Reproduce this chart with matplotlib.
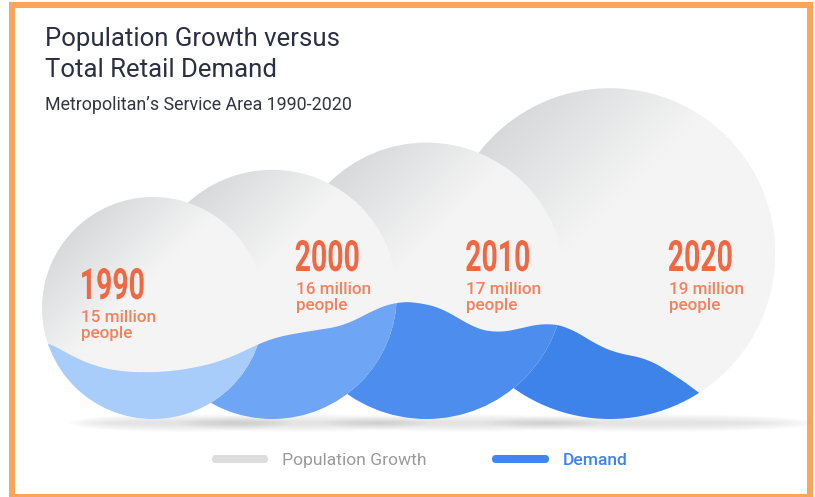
import numpy as np
import matplotlib
matplotlib.use("Agg")
import matplotlib.pyplot as plt
from matplotlib.patches import Circle, Rectangle, Ellipse, FancyBboxPatch
from matplotlib.patheffects import AbstractPathEffect
from matplotlib.transforms import Affine2D

# data
years = ["1990", "2000", "2010", "2020"]
population = [15, 16, 17, 19]  # million people
# demand wave height (index) along the timeline
demand = [77, 62, 51, 46, 45, 46, 50, 56, 67, 79, 84, 88, 92, 106,
          116, 115, 108, 91, 84, 89, 95, 90, 73, 63, 60, 45, 28, 7]

# layout (pixel units, y down)
W, H = 815, 497
base_y = 419          # circles sit on this line
first_cx = 153
overlap = [0.506, 0.587, 0.604]
label_dx = [-0.66, 0.18, 0.28, 0.35]
label_top = [268, 240, 240, 240]
wave_colors = ["#a8cdfb", "#6ea5f4", "#4c8ded", "#3d83ea"]
dark = np.array([0xd2, 0xd4, 0xd6]) / 255
light = np.array([0xf4, 0xf4, 0xf4]) / 255
orange = "#ef6843"
orange_l = "#f18260"


class Condense(AbstractPathEffect):
    """squeeze glyphs horizontally (no condensed font installed)"""
    def __init__(self, sx):
        super().__init__()
        self.sx = sx

    def draw_path(self, renderer, gc, tpath, affine, rgbFace=None):
        renderer.draw_path(gc, tpath, Affine2D().scale(self.sx, 1) + affine, rgbFace)


radii = [13.6 * p - 93 for p in population]
cxs = [first_cx]
for i in range(1, len(radii)):
    cxs.append(cxs[-1] + overlap[i - 1] * (radii[i - 1] + radii[i]))
cys = [base_y - r for r in radii]

fig = plt.figure(figsize=(W / 100, H / 100), dpi=100)
ax = fig.add_axes([0, 0, 1, 1])
ax.set_xlim(0, W)
ax.set_ylim(H, 0)
ax.axis("off")

# soft shadows under circles
for cx, r in zip(cxs, radii):
    for k in range(8):
        ax.add_patch(Ellipse((cx + 0.25 * r, base_y + 4), 2.0 * r * (1.0 - k * 0.05),
                             18 - k * 2, color="#a0a0a0", alpha=0.035, lw=0, zorder=1))

# demand wave x positions across the timeline
wave_x = np.linspace(cxs[0] - radii[0] + 3, 720, len(demand))
fine_x = np.linspace(wave_x[0] - 20, W, 600)
fine_y = base_y - 2 - np.interp(fine_x, wave_x, demand)
# smooth the curve a bit
kern = np.ones(25) / 25
fine_y = np.convolve(np.pad(fine_y, 12, mode="edge"), kern, mode="valid")

# draw back to front: 2020 first, 1990 last
n = len(years)
for i in reversed(range(n)):
    cx, cy, r = cxs[i], cys[i], radii[i]
    z = 2 + (n - i) * 3
    circ = Circle((cx, cy), r, transform=ax.transData, facecolor="none", lw=0)
    ax.add_patch(circ)
    u = np.linspace(-1, 1, 200)
    U, V = np.meshgrid(u, u)
    t = (U + V) / np.sqrt(2)
    f = np.clip((t + 1.15) / 0.95, 0, 1)[..., None]
    img = dark * (1 - f) + light * f
    im = ax.imshow(img, extent=(cx - r, cx + r, cy + r, cy - r), zorder=z,
                   interpolation="bilinear", aspect="auto")
    im.set_clip_path(circ)
    wave = ax.fill_between(fine_x, fine_y, H, color=wave_colors[i], lw=0, zorder=z + 1)
    wave.set_clip_path(circ)

    # labels
    lx = cx + label_dx[i] * r
    ly = label_top[i]
    ax.text(lx, ly - 1, years[i], color=orange, fontsize=31, fontweight="bold",
            family=["Roboto", "DejaVu Sans"], va="top", ha="left", zorder=40,
            path_effects=[Condense(0.66)])
    ax.text(lx + 1, ly + 42, f"{population[i]} million\npeople", color=orange_l, fontsize=12.3,
            family=["Roboto", "DejaVu Sans"], fontweight="medium", va="top", ha="left",
            linespacing=1.08, zorder=40)

# titles
ax.text(45, 46, "Population Growth versus", fontsize=18.5, color="#2b2f42",
        family=["Roboto", "DejaVu Sans"], va="baseline", zorder=50)
ax.text(45, 77, "Total Retail Demand", fontsize=18.5, color="#2b2f42",
        family=["Roboto", "DejaVu Sans"], va="baseline", zorder=50)
ax.text(45, 110, "Metropolitan\u2019s Service Area 1990-2020", fontsize=12.9, color="#33363f",
        family=["Roboto", "DejaVu Sans"], va="baseline", zorder=50)

# legend
ax.add_patch(FancyBboxPatch((212, 455), 56, 8, boxstyle="round,pad=0,rounding_size=4",
                            facecolor="#dcdcdc", lw=0, zorder=50))
ax.text(282, 465, "Population Growth", fontsize=12.6, color="#9a9a9a",
        family=["Roboto", "DejaVu Sans"], va="baseline", zorder=50)
ax.add_patch(FancyBboxPatch((492, 455), 57, 8, boxstyle="round,pad=0,rounding_size=4",
                            facecolor="#3f86f0", lw=0, zorder=50))
ax.text(563, 465, "Demand", fontsize=12.6, color="#3d83ea", fontweight="medium",
        family=["Roboto", "DejaVu Sans"], va="baseline", zorder=50)

# orange frame
ax.add_patch(Rectangle((11.5, 4.5), 798, 492, fill=False, edgecolor="#f9a55b",
                       lw=4.3, zorder=60, clip_on=False))

fig.savefig("out.png", dpi=100)
